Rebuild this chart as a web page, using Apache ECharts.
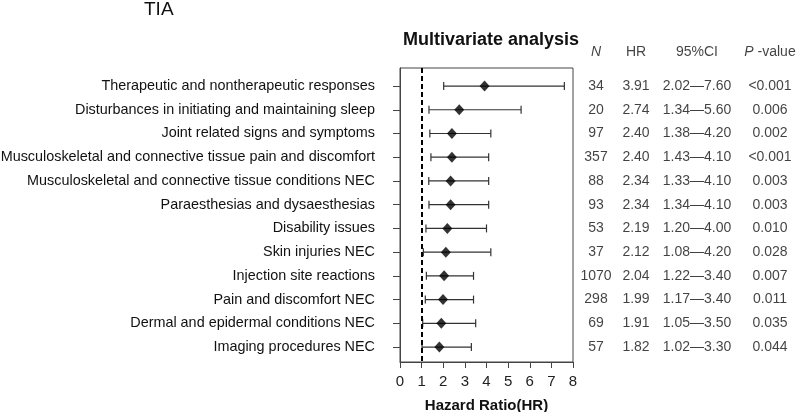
<!DOCTYPE html>
<html><head><meta charset="utf-8">
<script src="https://cdn.jsdelivr.net/npm/echarts@6/dist/echarts.min.js"></script>
<style>html,body{margin:0;padding:0;background:#fff}#c{width:796px;height:412px}</style>
</head><body><div id="c"></div>
<script>
// ---- data ----
const categories = [
  'Therapeutic and nontherapeutic responses',
  'Disturbances in initiating and maintaining sleep',
  'Joint related signs and symptoms',
  'Musculoskeletal and connective tissue pain and discomfort',
  'Musculoskeletal and connective tissue conditions NEC',
  'Paraesthesias and dysaesthesias',
  'Disability issues',
  'Skin injuries NEC',
  'Injection site reactions',
  'Pain and discomfort NEC',
  'Dermal and epidermal conditions NEC',
  'Imaging procedures NEC'
];
const nValues = [34, 20, 97, 357, 88, 93, 53, 37, 1070, 298, 69, 57];
const hr =      [3.91, 2.74, 2.40, 2.40, 2.34, 2.34, 2.19, 2.12, 2.04, 1.99, 1.91, 1.82];
const ciLow =   [2.02, 1.34, 1.38, 1.43, 1.33, 1.34, 1.20, 1.08, 1.22, 1.17, 1.05, 1.02];
const ciHigh =  [7.60, 5.60, 4.20, 4.10, 4.10, 4.10, 4.00, 4.20, 3.40, 3.40, 3.50, 3.30];
const pValues = ['<0.001', '0.006', '0.002', '<0.001', '0.003', '0.003', '0.010', '0.028', '0.007', '0.011', '0.035', '0.044'];
const xTicks = [0, 1, 2, 3, 4, 5, 6, 7, 8];
const refLine = 1;

// ---- layout ----
const FONT = "'Liberation Sans', Arial, sans-serif";
const colX = {n: 596, hr: 636, ci: 697, p: 770};   // table column centres (pixel-scaled axis)
const HEADER_ROW = -0.43;
const rowVals = categories.map((_, i) => i + 1);

const errData = categories.map((_, i) => [ciLow[i], ciHigh[i], rowVals[i]]);
const hrData = categories.map((_, i) => [hr[i], rowVals[i]]);

const tableData = [];
categories.forEach((_, i) => {
  tableData.push([colX.n, rowVals[i], String(nValues[i])]);
  tableData.push([colX.hr, rowVals[i], hr[i].toFixed(2)]);
  tableData.push([colX.ci, rowVals[i], ciLow[i].toFixed(2) + '\u2014' + ciHigh[i].toFixed(2)]);
  tableData.push([colX.p, rowVals[i], pValues[i]]);
});
const headerData = [
  [colX.n, HEADER_ROW, '{i|N}'],
  [colX.hr, HEADER_ROW, 'HR'],
  [colX.ci, HEADER_ROW, '95%CI'],
  [colX.p, HEADER_ROW, '{i|P} -value']
];

const chart = echarts.init(document.getElementById('c'), null, {renderer: 'canvas'});
chart.setOption({
  backgroundColor: '#fff',
  animation: false,
  textStyle: {fontFamily: FONT},
  title: [
    {text: 'TIA', left: 139, top: -5, textStyle: {fontFamily: FONT, fontSize: 19, fontWeight: 'normal', color: '#111'}},
    {text: 'Multivariate analysis', left: 398, top: 26, textStyle: {fontFamily: FONT, fontSize: 18, fontWeight: 'bold', color: '#111'}}
  ],
  grid: [
    {left: 400, right: 223, top: 68, bottom: 50, show: true, borderColor: '#444', borderWidth: 1, containLabel: false, outerBoundsMode: 'none'},
    {left: 560, right: 0, top: 40, bottom: 50, show: false, outerBoundsMode: 'none'}
  ],
  xAxis: [
    {
      gridIndex: 0, type: 'value', min: 0, max: 8, interval: 1,
      axisLine: {show: true, lineStyle: {color: '#444', width: 1}},
      axisTick: {show: true, inside: false, length: 6, lineStyle: {color: '#444'}, customValues: xTicks},
      axisLabel: {fontFamily: FONT, fontSize: 15, color: '#222', margin: 12, customValues: xTicks},
      splitLine: {show: false},
      name: 'Hazard Ratio(HR)', nameLocation: 'middle', nameGap: 44, nameMoveOverlap: false,
      nameTextStyle: {fontFamily: FONT, fontSize: 15, fontWeight: 'bold', color: '#111', verticalAlign: 'middle'}
    },
    {gridIndex: 1, type: 'value', min: 560, max: 796, show: false}
  ],
  yAxis: [
    {
      gridIndex: 0, type: 'value', inverse: true, min: 0.24, max: 12.63,
      axisLine: {show: true, lineStyle: {color: '#444'}},
      axisTick: {show: true, inside: false, length: 7, lineStyle: {color: '#444'}, customValues: rowVals},
      axisLabel: {
        fontFamily: FONT, fontSize: 14.4, color: '#111', margin: 25,
        customValues: rowVals,
        formatter: v => categories[Math.round(v) - 1] || ''
      },
      splitLine: {show: false}
    },
    {gridIndex: 1, type: 'value', inverse: true, min: -0.94, max: 12.63, show: false}
  ],
  series: [
    {
      type: 'custom', xAxisIndex: 0, yAxisIndex: 0, data: errData, z: 3,
      renderItem: function (params, api) {
        const lo = api.coord([api.value(0), api.value(2)]);
        const hi = api.coord([api.value(1), api.value(2)]);
        const cap = 4;
        const st = {stroke: '#333', lineWidth: 1.2};
        return {
          type: 'group',
          children: [
            {type: 'line', shape: {x1: lo[0], y1: lo[1], x2: hi[0], y2: hi[1]}, style: st},
            {type: 'line', shape: {x1: lo[0], y1: lo[1] - cap, x2: lo[0], y2: lo[1] + cap}, style: st},
            {type: 'line', shape: {x1: hi[0], y1: hi[1] - cap, x2: hi[0], y2: hi[1] + cap}, style: st}
          ]
        };
      }
    },
    {
      type: 'scatter', xAxisIndex: 0, yAxisIndex: 0, data: hrData, z: 4,
      symbol: 'diamond', symbolSize: [10, 11], itemStyle: {color: '#000'},
      markLine: {
        silent: true, symbol: 'none', label: {show: false},
        lineStyle: {type: [5, 3], color: '#000', width: 2},
        data: [{xAxis: refLine}]
      }
    },
    {
      type: 'scatter', xAxisIndex: 1, yAxisIndex: 1, data: tableData, symbolSize: 0,
      label: {show: true, position: 'inside', formatter: p => p.value[2],
        fontFamily: FONT, fontSize: 14, color: '#111'}
    },
    {
      type: 'scatter', xAxisIndex: 1, yAxisIndex: 1, data: headerData, symbolSize: 0,
      label: {show: true, position: 'inside', formatter: p => p.value[2],
        fontFamily: FONT, fontSize: 14, color: '#111',
        rich: {i: {fontFamily: FONT, fontSize: 14, fontStyle: 'italic', color: '#111'}}}
    }
  ]
});
</script>
</body></html>
